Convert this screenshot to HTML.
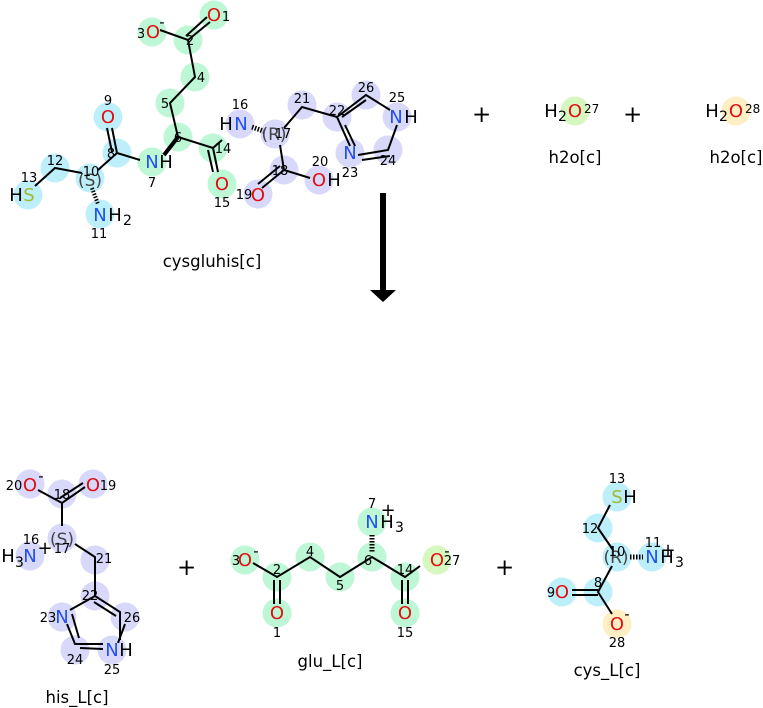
<!DOCTYPE html>
<html><head><meta charset="utf-8"><style>
html,body{margin:0;padding:0;background:#fff;}
svg{display:block;font-family:"DejaVu Sans","Liberation Sans",sans-serif;}
.g{fill:#bdf7d6}.c{fill:#bdeffb}.p{fill:#d8d8fb}.y{fill:#fdefc3}.l{fill:#d6f8c0}
.b{stroke:#000;stroke-width:2;fill:none}
.n{font-size:13px;fill:#000;text-anchor:middle}
.a{font-size:18px;text-anchor:middle}
.O{fill:#e01010}.N{fill:#2050f0}.S{fill:#a0b830}
.lab{font-size:16.5px;text-anchor:middle;fill:#000}
.st{font-size:17px;fill:#444;text-anchor:middle}
</style></head><body>
<svg width="763" height="708" viewBox="0 0 763 708">
<g>
<circle class="g" cx="214" cy="15" r="14.5"/><circle class="g" cx="152" cy="32" r="14.5"/><circle class="g" cx="188" cy="40" r="14.5"/>
<circle class="g" cx="195" cy="77" r="14.5"/><circle class="g" cx="170" cy="103" r="14.5"/><circle class="g" cx="178" cy="137" r="14.5"/>
<circle class="g" cx="213" cy="148" r="14.5"/><circle class="g" cx="222" cy="184" r="14.5"/><circle class="g" cx="152" cy="162" r="14.5"/>
<circle class="c" cx="108" cy="117" r="14.5"/><circle class="c" cx="117" cy="153" r="14.5"/><circle class="c" cx="90" cy="178" r="14.5"/>
<circle class="c" cx="55" cy="168" r="14.5"/><circle class="c" cx="28" cy="195" r="14.5"/><circle class="c" cx="100" cy="214" r="14.5"/>
<circle class="p" cx="240" cy="124" r="14.5"/><circle class="p" cx="275" cy="134" r="14.5"/><circle class="p" cx="302" cy="105" r="14.5"/>
<circle class="p" cx="337" cy="117" r="14.5"/><circle class="p" cx="366" cy="95" r="14.5"/><circle class="p" cx="397" cy="117" r="14.5"/>
<circle class="p" cx="388" cy="150" r="14.5"/><circle class="p" cx="350" cy="153" r="14.5"/><circle class="p" cx="284" cy="170" r="14.5"/>
<circle class="p" cx="258" cy="194" r="14.5"/><circle class="p" cx="319" cy="180" r="14.5"/>
<circle class="l" cx="575" cy="111" r="14.5"/><circle class="y" cx="736" cy="111" r="14.5"/>
</g>
<g class="b">
<path d="M160 30 L188 40 L210 22"/><path d="M186 36 L207 17"/>
<path d="M188 40 L195 77 L170 103 L178 137 L213 148 L222 140"/>
<path d="M213 148 L218 172 M208 150 L213 172"/>
<path d="M178 137 L164 155" style="stroke-width:4"/>
<path d="M117 153 L140 160 M117 153 L112 128 M112 152 L107 128 M117 153 L98 170"/>
<path d="M82 173 L55 168 L35 186"/>
<path d="M92 188 L98 204" style="stroke-dasharray:1.5 1.5;stroke-width:4"/>
<path d="M252 127 L266 132" style="stroke-dasharray:1.5 1.5;stroke-width:5"/>
<path d="M284 128 L302 107 L337 117 L366 95 L390 110 M337 117 L350 146 M358 155 L388 150 L397 125"/>
<path d="M342 117 L366 100 M345 125 L355 146 M362 160 L390 156"/>
<path d="M280 145 L284 170 L310 178 M284 170 L262 188 M280 166 L258 184"/>
</g>
<g>
<text class="a O" x="214" y="21">O</text><text class="n" x="226" y="21">1</text>
<text class="a O" x="153" y="38">O</text><text class="n" x="141" y="38">3</text><text class="a" x="162" y="27" style="font-size:15px">-</text>
<text class="n" x="190" y="45">2</text><text class="n" x="201" y="82">4</text><text class="n" x="165" y="108">5</text><text class="n" x="178" y="142">6</text>
<text class="n" x="223" y="153">14</text>
<text class="a O" x="222" y="190">O</text><text class="n" x="222" y="207">15</text>
<text class="a N" x="152" y="168">N</text><text class="a" x="166" y="168">H</text><text class="n" x="152" y="187">7</text>
<text class="a O" x="108" y="123">O</text><text class="n" x="108" y="105">9</text><text class="n" x="111" y="158">8</text>
<text class="st" x="90" y="186">(S)</text><text class="n" x="91" y="176">10</text>
<text class="n" x="55" y="165">12</text><text class="a S" x="29" y="201">S</text><text class="a" x="16" y="201">H</text><text class="n" x="29" y="182">13</text>
<text class="a N" x="100" y="221">N</text><text class="a" x="115" y="221">H</text><text x="123" y="225" style="font-size:14px">2</text><text class="n" x="99" y="238">11</text>
<text class="a N" x="241" y="130">N</text><text class="a" x="226" y="130">H</text><text class="n" x="240" y="109">16</text>
<text class="st" x="274" y="140">(R)</text><text class="n" x="283" y="138">17</text>
<text class="n" x="302" y="103">21</text><text class="n" x="337" y="115">22</text><text class="n" x="366" y="92">26</text>
<text class="a N" x="396" y="123">N</text><text class="a" x="411" y="123">H</text><text class="n" x="397" y="102">25</text>
<text class="n" x="388" y="165">24</text><text class="a N" x="350" y="159">N</text><text class="n" x="350" y="177">23</text>
<text class="n" x="280" y="175">18</text><text class="a O" x="258" y="201">O</text><text class="n" x="244" y="199">19</text>
<text class="a O" x="319" y="186">O</text><text class="a" x="334" y="186">H</text><text class="n" x="320" y="166">20</text>
<text class="lab" x="212" y="267">cysgluhis[c]</text>
<text x="472" y="122" style="font-size:23px">+</text>
<text class="a" x="551" y="117">H</text><text x="558" y="121" style="font-size:14px">2</text><text class="a O" x="575" y="117">O</text><text x="584" y="113" style="font-size:12px">27</text>
<text class="lab" x="575" y="163">h2o[c]</text>
<text x="623" y="122" style="font-size:23px">+</text>
<text class="a" x="712" y="117">H</text><text x="719" y="121" style="font-size:14px">2</text><text class="a O" x="736" y="117">O</text><text x="745" y="113" style="font-size:12px">28</text>
<text class="lab" x="736" y="163">h2o[c]</text>
</g>
<rect x="380" y="193" width="6" height="98" fill="#000"/><path d="M370 290 L396 290 L383 302 Z" fill="#000"/>

<g>
<circle class="p" cx="30" cy="484" r="14.5"/><circle class="p" cx="62" cy="494" r="14.5"/><circle class="p" cx="93" cy="484" r="14.5"/>
<circle class="p" cx="62" cy="538" r="14.5"/><circle class="p" cx="30" cy="556" r="14.5"/><circle class="p" cx="95" cy="560" r="14.5"/>
<circle class="p" cx="95" cy="596" r="14.5"/><circle class="p" cx="62" cy="617" r="14.5"/><circle class="p" cx="125" cy="617" r="14.5"/>
<circle class="p" cx="75" cy="650" r="14.5"/><circle class="p" cx="112" cy="650" r="14.5"/>
<circle class="g" cx="245" cy="560" r="14.5"/><circle class="g" cx="277" cy="577" r="14.5"/><circle class="g" cx="277" cy="613" r="14.5"/>
<circle class="g" cx="310" cy="557" r="14.5"/><circle class="g" cx="340" cy="577" r="14.5"/><circle class="g" cx="372" cy="557" r="14.5"/>
<circle class="g" cx="372" cy="522" r="14.5"/><circle class="g" cx="405" cy="577" r="14.5"/><circle class="g" cx="405" cy="613" r="14.5"/>
<circle class="l" cx="437" cy="560" r="14.5"/>
<circle class="c" cx="617" cy="497" r="14.5"/><circle class="c" cx="598" cy="528" r="14.5"/><circle class="c" cx="617" cy="557" r="14.5"/>
<circle class="c" cx="652" cy="557" r="14.5"/><circle class="c" cx="598" cy="592" r="14.5"/><circle class="c" cx="562" cy="592" r="14.5"/>
<circle class="y" cx="617" cy="624" r="14.5"/>
</g>
<g class="b">
<path d="M38 490 L62 503 L85 487 M60 498 L83 483"/>
<path d="M62 503 L62 526"/><path d="M75 544 L95 557 L95 596 L120 612 L120 640 M95 596 L70 610 M67 624 L75 644 L103 644"/>
<path d="M94 602 L116 616 M72 614 L79 638 M80 648 L103 649 M125 624 L118 643"/>
<path d="M253 563 L277 577 L310 557 L340 577 L372 557 L405 577 L420 566"/>
<path d="M274 580 L274 604 M280 580 L280 604 M402 580 L402 604 M408 580 L408 604"/>
<path d="M372 535 L372 553" style="stroke-dasharray:1.5 1.5;stroke-width:5"/>
<path d="M610 505 L598 528 L613 550 M612 566 L598 592 L612 614 M598 590 L572 590 M598 595 L572 595"/>
<path d="M630 557 L643 557" style="stroke-dasharray:1.5 1.5;stroke-width:5"/>
</g>
<g>
<text class="a O" x="30" y="491">O</text><text class="n" x="14" y="490">20</text><text class="a" x="41" y="481" style="font-size:15px">-</text>
<text class="a O" x="93" y="491">O</text><text class="n" x="108" y="490">19</text><text class="n" x="62" y="499">18</text>
<text class="st" x="62" y="545">(S)</text><text class="n" x="62" y="553">17</text>
<text class="a N" x="30" y="562">N</text><text class="a" x="8" y="562">H</text><text x="15" y="567" style="font-size:14px">3</text><text class="a" x="45" y="554">+</text><text class="n" x="31" y="544">16</text>
<text class="n" x="104" y="563">21</text><text class="n" x="90" y="600">22</text>
<text class="a N" x="62" y="623">N</text><text class="n" x="48" y="622">23</text><text class="n" x="132" y="622">26</text>
<text class="n" x="75" y="664">24</text><text class="a N" x="112" y="656">N</text><text class="a" x="126" y="656">H</text><text class="n" x="112" y="674">25</text>
<text class="lab" x="77" y="703">his_L[c]</text>
<text x="177" y="575" style="font-size:23px">+</text>
<text class="a O" x="245" y="566">O</text><text class="n" x="236" y="565">3</text><text class="a" x="256" y="556" style="font-size:15px">-</text>
<text class="n" x="277" y="574">2</text><text class="a O" x="277" y="619">O</text><text class="n" x="277" y="637">1</text>
<text class="n" x="310" y="556">4</text><text class="n" x="340" y="590">5</text><text class="n" x="368" y="565">6</text>
<text class="a N" x="372" y="528">N</text><text class="a" x="387" y="528">H</text><text x="395" y="532" style="font-size:14px">3</text><text class="a" x="388" y="516">+</text><text class="n" x="372" y="508">7</text>
<text class="n" x="405" y="574">14</text><text class="a O" x="405" y="619">O</text><text class="n" x="405" y="637">15</text>
<text class="a O" x="437" y="566">O</text><text class="a" x="447" y="556" style="font-size:15px">-</text><text class="n" x="452" y="565">27</text>
<text class="lab" x="330" y="667">glu_L[c]</text>
<text x="495" y="575" style="font-size:23px">+</text>
<text class="a S" x="617" y="503">S</text><text class="a" x="630" y="503">H</text><text class="n" x="617" y="483">13</text>
<text class="n" x="590" y="533">12</text>
<text class="st" x="616" y="563">(R)</text><text class="n" x="617" y="556">10</text>
<text class="a N" x="652" y="563">N</text><text class="a" x="667" y="563">H</text><text x="675" y="567" style="font-size:14px">3</text><text class="a" x="668" y="556">+</text><text class="n" x="653" y="547">11</text>
<text class="n" x="598" y="587">8</text><text class="a O" x="562" y="598">O</text><text class="n" x="551" y="597">9</text>
<text class="a O" x="617" y="630">O</text><text class="a" x="627" y="619" style="font-size:15px">-</text><text class="n" x="617" y="647">28</text>
<text class="lab" x="607" y="676">cys_L[c]</text>
</g>
</svg>
</body></html>
